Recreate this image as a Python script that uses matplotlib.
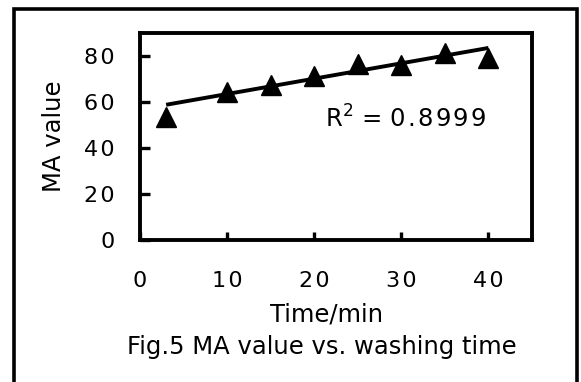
import matplotlib

matplotlib.use("Agg")
import matplotlib.pyplot as plt
from matplotlib.patches import Rectangle

# values
time_min = [3, 10, 15, 20, 25, 30, 35, 40]
ma_value = [53.5, 64.3, 67.6, 71.4, 76.4, 76.1, 81.2, 79.0]
trend_time = [3, 40]
trend_value = [58.8, 83.5]
r_squared = "0.8999"
x_ticks = [0, 10, 20, 30, 40]
y_ticks = [0, 20, 40, 60, 80]

W, H = 581, 382
GAP = "\u200a"


def spaced(text):
    # the scanned figure uses wide letter spacing for numbers
    return GAP.join(text)


plt.rcParams["font.family"] = ["DejaVu Sans"]
plt.rcParams["mathtext.fontset"] = "dejavusans"

fig = plt.figure(figsize=(W / 100, H / 100), dpi=100)
ax = fig.add_axes([140 / W, 1 - 240 / H, 392 / W, 207 / H])

ax.plot(trend_time, trend_value, color="black", lw=2.8, solid_capstyle="butt", zorder=2)
ax.plot(time_min, ma_value, ls="none", marker="^", ms=14, color="black", zorder=3)

ax.set_xlim(0, 45)
ax.set_ylim(0, 90)
ax.set_xticks(x_ticks)
ax.set_xticklabels([spaced(str(v)) for v in x_ticks])
ax.set_yticks(y_ticks)
ax.set_yticklabels([spaced(str(v)) for v in y_ticks])

for spine in ax.spines.values():
    spine.set_linewidth(2.8)
ax.tick_params(axis="x", direction="in", length=6, width=2.4, pad=22, labelsize=16)
ax.tick_params(axis="y", direction="in", length=7, width=2.4, pad=18, labelsize=16)

ax.set_xlabel("Time/min", fontsize=17.5, va="center")
ax.xaxis.set_label_coords((327 - 140) / 392, (240 - 315) / 207)
ax.set_ylabel("MA value", fontsize=17.5, va="center")
ax.yaxis.set_label_coords((54 - 140) / 392, 0.5)

ax.text(
    (325 - 140) / 392,
    (240 - 119) / 207,
    r"R$^2$ = " + spaced(r_squared),
    transform=ax.transAxes,
    ha="left",
    va="center",
    fontsize=17.5,
)

fig.text(322 / W, 1 - 347 / H, "Fig.5 MA value vs. washing time", ha="center", va="center", fontsize=17.5)

border = Rectangle(
    (14 / W, -0.05),
    (577 - 14) / W,
    1 - 9 / H + 0.05,
    transform=fig.transFigure,
    fill=False,
    edgecolor="black",
    linewidth=2.6,
    clip_on=False,
)
fig.add_artist(border)

fig.savefig("out.png", dpi=100)
